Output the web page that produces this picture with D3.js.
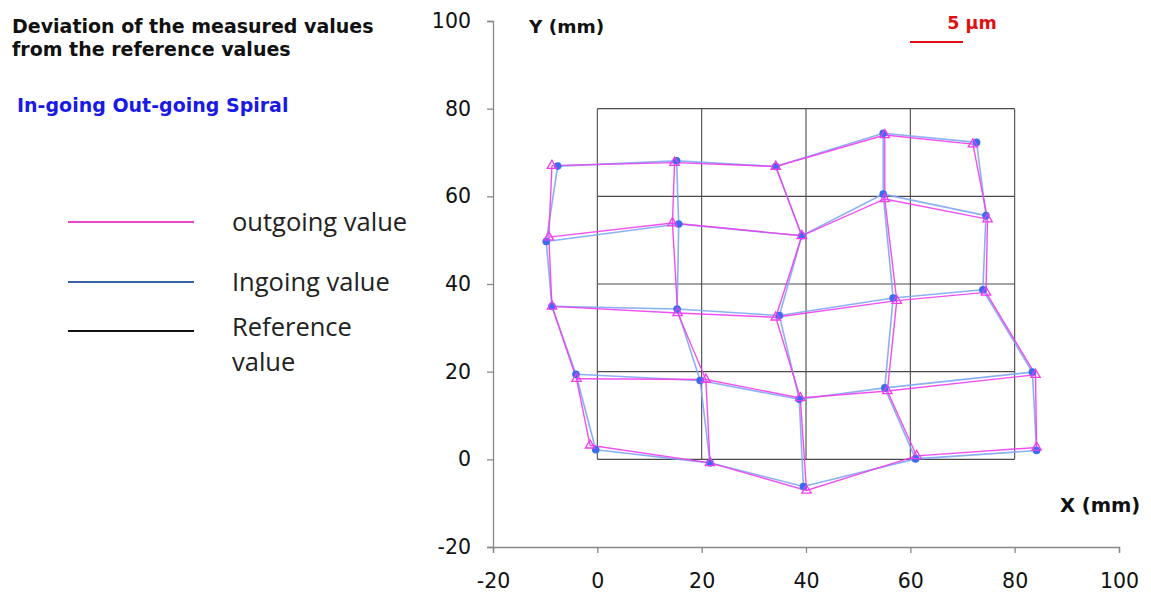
<!DOCTYPE html>
<html>
<head>
<meta charset="utf-8">
<script src="https://cdn.jsdelivr.net/npm/d3@7"></script>
<style>
  html, body { margin: 0; padding: 0; background: #fff; }
  svg { display: block; }
</style>
</head>
<body>
<svg id="chart" width="1151" height="594"></svg>
<script>
// Axis ticks (mm)
const xTicks = [-20, 0, 20, 40, 60, 80, 100];
const yTicks = [-20, 0, 20, 40, 60, 80, 100];

// Nominal reference grid lines (mm)
const refGrid = [0, 20, 40, 60, 80];

// Ingoing measurement: node positions with exaggerated deviation, rows from y = 80 down to y = 0
const ingoingRow80 = [[-7.6, 66.9], [15.2, 68.1], [34.2, 66.8], [54.8, 74.4], [72.7, 72.3]];
const ingoingRow60 = [[-9.8, 49.7], [15.6, 53.7], [39.2, 51.0], [54.8, 60.5], [74.5, 55.6]];
const ingoingRow40 = [[-8.7, 34.9], [15.3, 34.3], [34.9, 32.8], [56.7, 36.8], [73.9, 38.7]];
const ingoingRow20 = [[-4.1, 19.4], [19.7, 18.0], [38.7, 13.7], [55.1, 16.3], [83.4, 19.9]];
const ingoingRow0  = [[-0.3, 2.2], [21.6, -0.8], [39.5, -6.2], [61.0, 0.1], [84.2, 2.0]];

// Outgoing measurement: same nodes
const outgoingRow80 = [[-8.7, 67.0], [14.8, 67.7], [34.2, 66.8], [55.1, 74.0], [72.0, 71.9]];
const outgoingRow60 = [[-9.3, 50.7], [14.4, 53.9], [39.2, 51.0], [55.1, 59.4], [74.8, 54.8]];
const outgoingRow40 = [[-8.7, 34.9], [15.4, 33.4], [34.2, 32.4], [57.4, 36.2], [74.5, 38.1]];
const outgoingRow20 = [[-4.0, 18.4], [20.8, 18.2], [38.9, 14.0], [55.6, 15.6], [84.0, 19.3]];
const outgoingRow0  = [[-1.4, 3.2], [21.6, -0.8], [40.1, -7.1], [61.2, 0.8], [84.2, 2.7]];

const ingoingRows = [ingoingRow80, ingoingRow60, ingoingRow40, ingoingRow20, ingoingRow0];
const outgoingRows = [outgoingRow80, outgoingRow60, outgoingRow40, outgoingRow20, outgoingRow0];

// Legend entries
const legendLabels = [["outgoing value"], ["Ingoing value"], ["Reference", "value"]];
const legendColors = ["#e845c9", "#3a60a8", "#111111"];

const svg = d3.select("#chart");

const x = d3.scaleLinear().domain([-20, 100]).range([493, 1119]);
const y = d3.scaleLinear().domain([-20, 100]).range([547, 21]);

const sansFont = "'DejaVu Sans', 'Liberation Sans', Arial, sans-serif";

// Axes: x along y = -20, y along x = -20
const xAxis = svg.append("g")
  .attr("transform", `translate(0,${y(-20)})`)
  .call(d3.axisBottom(x).tickValues(xTicks).tickSize(6).tickPadding(20).tickFormat(d => String(d)));
const yAxis = svg.append("g")
  .attr("transform", `translate(${x(-20)},0)`)
  .call(d3.axisLeft(y).tickValues(yTicks).tickSize(6).tickPadding(16).tickFormat(d => String(d)));
[xAxis, yAxis].forEach(a => {
  a.selectAll("path.domain").attr("stroke", "#888").attr("stroke-width", 1.3);
  a.selectAll(".tick line").attr("stroke", "#888").attr("stroke-width", 1.3);
  a.selectAll(".tick text").attr("fill", "#111").style("font-family", sansFont).style("font-size", "20.5px");
});

// Reference grid
const gridG = svg.append("g").attr("stroke", "#4a4a4a").attr("stroke-width", 1.1).attr("fill", "none");
refGrid.forEach(v => {
  gridG.append("line").attr("x1", x(v)).attr("x2", x(v)).attr("y1", y(0)).attr("y2", y(80));
  gridG.append("line").attr("x1", x(0)).attr("x2", x(80)).attr("y1", y(v)).attr("y2", y(v));
});

const line = d3.line().x(d => x(d[0])).y(d => y(d[1]));

// Each mesh is drawn as its rows plus its columns
function meshPaths(rows) {
  const paths = rows.slice();
  for (let c = 0; c < rows[0].length; c++) paths.push(rows.map(r => r[c]));
  return paths;
}

// Ingoing mesh
svg.append("g").selectAll("path").data(meshPaths(ingoingRows)).join("path")
  .attr("d", line).attr("fill", "none").attr("stroke", "#7fa7f2").attr("stroke-width", 1.6).attr("opacity", 0.9);

// Outgoing mesh
svg.append("g").selectAll("path").data(meshPaths(outgoingRows)).join("path")
  .attr("d", line).attr("fill", "none").attr("stroke", "#f03cf0").attr("stroke-width", 1.4).attr("opacity", 0.9);

// Ingoing points
svg.append("g").selectAll("circle").data(ingoingRows.flat()).join("circle")
  .attr("cx", d => x(d[0])).attr("cy", d => y(d[1])).attr("r", 3.8)
  .attr("fill", "#3a6cf0");

// Outgoing points (open triangles)
const tri = d3.symbol().type(d3.symbolTriangle).size(38);
svg.append("g").selectAll("path").data(outgoingRows.flat()).join("path")
  .attr("d", tri)
  .attr("transform", d => `translate(${x(d[0])},${y(d[1])})`)
  .attr("fill", "none").attr("stroke", "#f03cf0").attr("stroke-width", 1.3);

// Axis titles
svg.append("text").attr("x", 529).attr("y", 33).text("Y (mm)")
  .style("font-family", sansFont).style("font-weight", "bold").style("font-size", "18.5px").attr("fill", "#111");
svg.append("text").attr("x", 1060).attr("y", 512).text("X (mm)")
  .style("font-family", sansFont).style("font-weight", "bold").style("font-size", "19.5px").attr("fill", "#111");

// Scale bar
svg.append("line").attr("x1", 910).attr("x2", 963).attr("y1", 42).attr("y2", 42)
  .attr("stroke", "#e01010").attr("stroke-width", 2.2);
svg.append("text").attr("x", 972).attr("y", 28.5).attr("text-anchor", "middle").text("5 µm")
  .style("font-family", sansFont).style("font-weight", "bold").style("font-size", "17.5px").attr("fill", "#e01010");

// Title block
svg.append("text").attr("x", 12).attr("y", 33).text("Deviation of the measured values")
  .style("font-family", sansFont).style("font-weight", "bold").style("font-size", "19px").attr("fill", "#111");
svg.append("text").attr("x", 12).attr("y", 55.5).text("from the reference values")
  .style("font-family", sansFont).style("font-weight", "bold").style("font-size", "19px").attr("fill", "#111");
svg.append("text").attr("x", 17).attr("y", 112).text("In-going Out-going Spiral")
  .style("font-family", sansFont).style("font-weight", "bold").style("font-size", "19px").attr("fill", "#1a1ae6");

// Legend
const legendY = [222, 282, 331];
const legendFont = "'Open Sans', 'Noto Sans', sans-serif";
legendLabels.forEach((lbl, i) => {
  svg.append("line").attr("x1", 68).attr("x2", 194).attr("y1", legendY[i]).attr("y2", legendY[i])
    .attr("stroke", legendColors[i]).attr("stroke-width", 2.2);
  lbl.forEach((t, j) => {
    svg.append("text").attr("x", 232).attr("y", legendY[i] + 9 + j * 35 - (lbl.length > 1 ? 4 : 0)).text(t)
      .style("font-family", legendFont).style("font-size", "25.5px").attr("fill", "#222");
  });
});
</script>
</body>
</html>
